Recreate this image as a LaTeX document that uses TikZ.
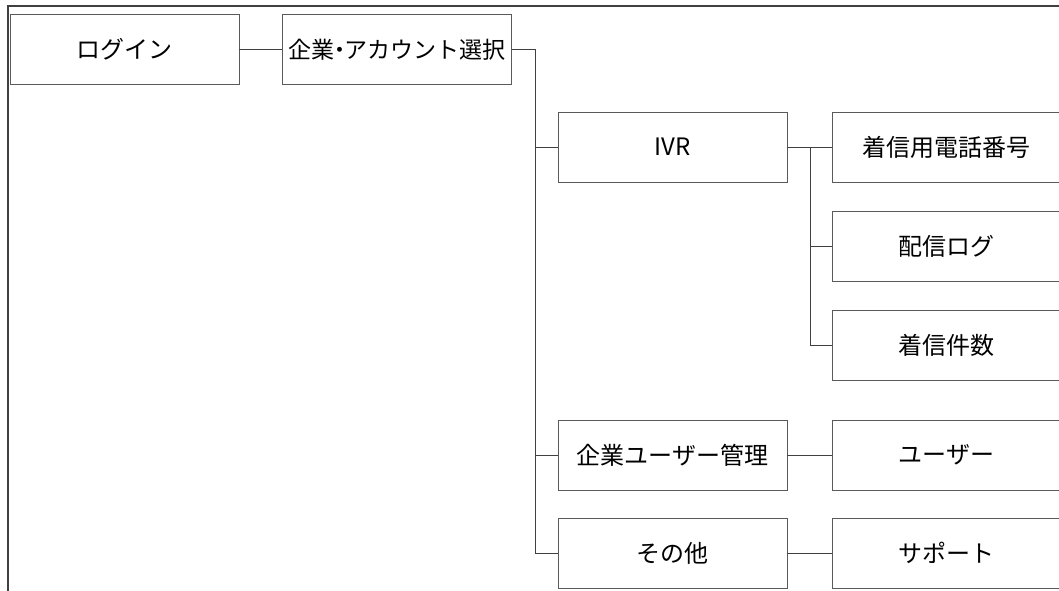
\documentclass[tikz,border=0pt]{standalone}
\usepackage{fontspec}
\newfontfamily\jpfont{Noto Sans CJK JP}
\definecolor{linec}{HTML}{404040}
\definecolor{boxc}{HTML}{5A5A5A}
\begin{document}
\begin{tikzpicture}[x=1pt,y=-1pt,
  box/.style={draw=boxc,line width=0.9pt,minimum width=229pt,minimum height=70pt,inner sep=0pt,
    font=\jpfont\fontsize{24}{28}\selectfont,text=black},
  conn/.style={draw=linec,line width=0.9pt}]
\useasboundingbox (0,0) rectangle (1059,591);
\clip (0,0) rectangle (1059,591);
\draw[linec,line width=1.4pt] (8,591) -- (8,6) -- (1059,6);
\node[box] (login) at (124.5,49.5) {ログイン};
\node[box,text width=229pt,align=center,font=\jpfont\fontsize{23}{28}\selectfont] (select) at (397,49.5) {企業\kern-0.3em・\kern-0.3emアカウント選択};
\node[box] (ivr) at (672.5,147) {IVR};
\node[box] (num) at (946.5,147) {着信用電話番号};
\node[box] (log) at (946.5,246.5) {配信ログ};
\node[box] (count) at (946.5,345.5) {着信件数};
\node[box] (umgmt) at (672.5,455) {企業ユーザー管理};
\node[box] (user) at (946.5,455) {ユーザー};
\node[box] (other) at (672.5,553) {その他};
\node[box] (support) at (946.5,553) {サポート};
\coordinate (busA) at (535,49.5);
\coordinate (busB) at (810,147);
\draw[conn] (login.east) -- (select.west);
\draw[conn] (select.east) -- (busA) |- (other.west);
\draw[conn] (busA |- ivr.west) -- (ivr.west);
\draw[conn] (busA |- umgmt.west) -- (umgmt.west);
\draw[conn] (ivr.east) -- (num.west);
\draw[conn] (busB) |- (count.west);
\draw[conn] (busB |- log.west) -- (log.west);
\draw[conn] (umgmt.east) -- (user.west);
\draw[conn] (other.east) -- (support.west);
\end{tikzpicture}
\end{document}
